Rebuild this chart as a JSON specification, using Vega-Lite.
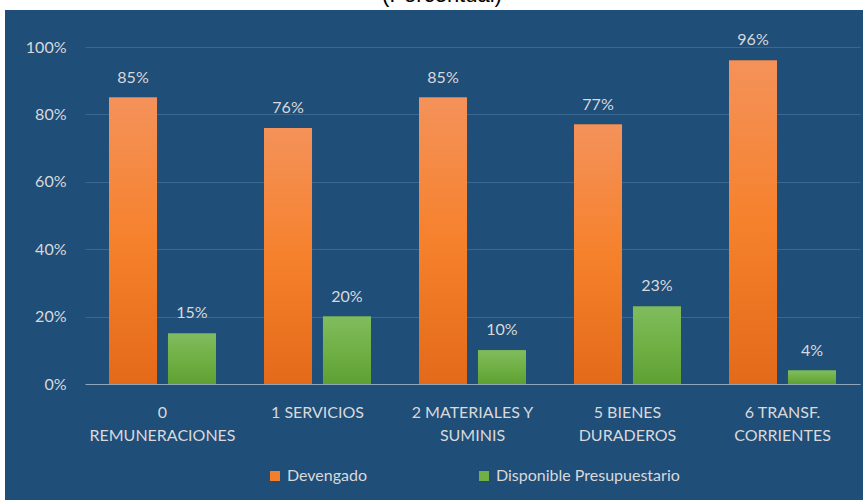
{
  "$schema": "https://vega.github.io/schema/vega-lite/v6.json",
  "width": 858,
  "height": 490,
  "autosize": {"type": "none"},
  "padding": {"left": 5, "top": 10, "right": 0, "bottom": 0},
  "background": "white",
  "title": {"text": "(Porcentual)", "font": "Liberation Sans", "fontSize": 22, "fontWeight": "normal", "color": "#000000", "anchor": "middle", "offset": -19, "baseline": "bottom", "dx": 8},
  "config": {"view": {"fill": "#1F4E79", "stroke": null}, "font": "Lato"},
  "data": {"values": [
    {"cat": "0|REMUNERACIONES", "serie": "Devengado", "valor": 0.85},
    {"cat": "0|REMUNERACIONES", "serie": "Disponible Presupuestario", "valor": 0.15},
    {"cat": "1  SERVICIOS", "serie": "Devengado", "valor": 0.76},
    {"cat": "1  SERVICIOS", "serie": "Disponible Presupuestario", "valor": 0.20},
    {"cat": "2  MATERIALES Y|SUMINIS", "serie": "Devengado", "valor": 0.85},
    {"cat": "2  MATERIALES Y|SUMINIS", "serie": "Disponible Presupuestario", "valor": 0.10},
    {"cat": "5  BIENES|DURADEROS", "serie": "Devengado", "valor": 0.77},
    {"cat": "5  BIENES|DURADEROS", "serie": "Disponible Presupuestario", "valor": 0.23},
    {"cat": "6  TRANSF.|CORRIENTES", "serie": "Devengado", "valor": 0.96},
    {"cat": "6  TRANSF.|CORRIENTES", "serie": "Disponible Presupuestario", "valor": 0.04}
  ]},
  "encoding": {
    "x": {"field": "cat", "type": "nominal", "sort": null,
      "scale": {"range": [80, 855], "paddingInner": 0.31, "paddingOuter": 0.155},
      "axis": {"title": null, "orient": "bottom", "offset": -96, "domain": false, "ticks": false, "grid": false, "labelAngle": 0,
        "labelExpr": "split(datum.label, '|')", "labelFontSize": 16, "labelColor": "#D9D9D9", "labelPadding": 0, "labelLineHeight": 23, "labelBaseline": "top"}},
    "y": {"field": "valor", "type": "quantitative",
      "scale": {"domain": [-0.3442, 1.1098], "nice": false, "zero": false},
      "axis": {"title": null, "values": [0, 0.2, 0.4, 0.6, 0.8, 1], "format": ".0%", "offset": -66, "domain": false, "ticks": false,
        "labelPadding": 5, "labelFontSize": 16, "labelColor": "#D9D9D9",
        "gridColor": {"condition": {"test": "datum.value === 0", "value": "#8FA5BC"}, "value": "#3B6790"}, "gridWidth": 1}},
    "xOffset": {"field": "serie", "type": "nominal", "sort": ["Devengado", "Disponible Presupuestario"], "scale": {"paddingInner": 0.186, "paddingOuter": 0}}
  },
  "layer": [
    {"mark": {"type": "bar"},
     "encoding": {
       "y2": {"datum": 0},
       "color": {"field": "serie", "type": "nominal",
         "scale": {"domain": ["Devengado", "Disponible Presupuestario"], "range": ["#F47F2A", "#70B045"]},
         "legend": {"title": null, "orient": "none", "legendX": 262, "legendY": 458, "direction": "horizontal", "symbolType": "square", "symbolSize": 100, "symbolStrokeWidth": 0, "labelFontSize": 16, "labelColor": "#D9D9D9", "labelLimit": 400, "columnPadding": 108, "labelOffset": 4}}
     }},
    {"transform": [{"filter": "datum.serie === 'Devengado'"}],
     "mark": {"type": "bar", "color": {"gradient": "linear", "x1": 0, "y1": 0, "x2": 0, "y2": 1, "stops": [{"offset": 0, "color": "#F4925A"}, {"offset": 0.5, "color": "#F6812C"}, {"offset": 1, "color": "#E36A19"}]}},
     "encoding": {"y2": {"datum": 0}}},
    {"transform": [{"filter": "datum.serie !== 'Devengado'"}],
     "mark": {"type": "bar", "color": {"gradient": "linear", "x1": 0, "y1": 0, "x2": 0, "y2": 1, "stops": [{"offset": 0, "color": "#80BC5E"}, {"offset": 0.5, "color": "#70B045"}, {"offset": 1, "color": "#5FA033"}]}},
     "encoding": {"y2": {"datum": 0}}},
    {"mark": {"type": "text", "baseline": "bottom", "dy": -12, "fontSize": 16, "color": "#D9D9D9"},
     "encoding": {"text": {"field": "valor", "type": "quantitative", "format": ".0%"}}}
  ]
}
